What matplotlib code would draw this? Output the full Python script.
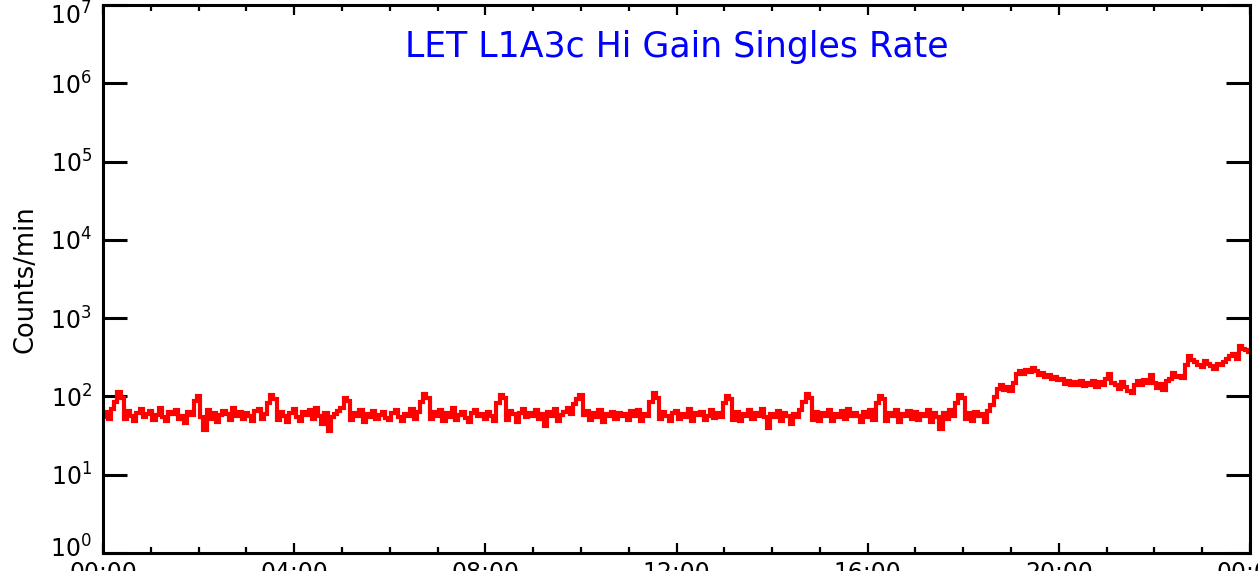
import matplotlib
matplotlib.use("Agg")
import matplotlib.pyplot as plt
import matplotlib.transforms as mtransforms
import numpy as np

# ---- data (4-minute samples) ----
hour_rows = [
    [55, 64, 52, 70, 85, 115, 95, 52, 66, 57, 48, 62, 70, 54, 60],
    [66, 50, 58, 72, 55, 49, 63, 60, 68, 52, 57, 46, 64, 58, 88],
    [102, 55, 37, 68, 52, 61, 47, 58, 66, 60, 50, 72, 56, 63, 51],
    [62, 57, 48, 66, 70, 52, 59, 82, 105, 92, 50, 64, 57, 47, 61],
    [70, 55, 49, 63, 58, 67, 52, 72, 57, 44, 62, 36, 55, 60, 66],
    [72, 96, 88, 50, 62, 57, 68, 47, 60, 55, 66, 51, 58, 64, 53],
    [50, 62, 67, 55, 48, 60, 57, 70, 52, 63, 84, 106, 95, 52, 64],
    [57, 68, 49, 61, 55, 72, 50, 58, 64, 53, 47, 62, 68, 56, 60],
    [52, 64, 57, 48, 82, 104, 96, 50, 66, 59, 47, 62, 70, 55, 61],
    [57, 68, 51, 60, 42, 63, 56, 70, 49, 58, 64, 72, 60, 80, 92],
    [104, 58, 66, 50, 61, 55, 68, 47, 60, 57, 64, 51, 62, 56, 59],
    [50, 65, 57, 68, 49, 60, 56, 84, 110, 96, 52, 63, 57, 48, 61],
    [66, 52, 59, 55, 70, 48, 62, 58, 64, 50, 57, 68, 53, 61, 55],
    [82, 102, 92, 50, 64, 48, 60, 56, 67, 51, 62, 57, 69, 54, 40],
    [60, 54, 66, 49, 62, 57, 44, 60, 55, 68, 86, 106, 95, 50, 64],
    [49, 62, 57, 68, 48, 60, 55, 66, 51, 69, 56, 61, 57, 47, 63],
    [55, 67, 50, 82, 100, 92, 48, 62, 57, 68, 47, 60, 56, 66, 52],
    [63, 50, 59, 56, 68, 47, 61, 54, 38, 62, 51, 67, 56, 82, 104],
    [96, 52, 61, 49, 64, 57, 60, 47, 66, 78, 98, 125, 142, 122, 132],
    [118, 150, 195, 210, 195, 218, 205, 228, 212, 186, 200, 178, 188, 168, 178],
    [160, 168, 145, 158, 138, 154, 140, 156, 134, 150, 142, 158, 132, 152, 140],
    [165, 192, 150, 142, 125, 152, 132, 118, 110, 142, 156, 140, 162, 148, 188],
    [148, 130, 144, 122, 158, 168, 198, 178, 185, 172, 250, 330, 290, 275, 255],
    [240, 285, 260, 245, 222, 256, 250, 275, 300, 328, 345, 298, 440, 400, 395],
]
last_value = [370]
counts = [v for row in hour_rows for v in row] + last_value
hours = np.arange(len(counts)) / 15.0

xtick_hours = [0, 4, 8, 12, 16, 20, 24]
xtick_labels = ["00:00", "04:00", "08:00", "12:00", "16:00", "20:00", "00:00"]
ytick_exps = [0, 1, 2, 3, 4, 5, 6, 7]

title = "LET L1A3c Hi Gain Singles Rate"
ylabel = "Counts/min"

# ---- figure ----
plt.rcParams["font.family"] = ["DejaVu Sans"]
plt.rcParams["mathtext.fontset"] = "dejavusans"

W, H = 1258, 571
fig = plt.figure(figsize=(W / 100, H / 100), dpi=100)
ax = fig.add_axes([103 / W, 1 - 553 / H, (1250 - 103) / W, (553 - 5) / H])

ax.plot(hours, counts, color="#ff0000", lw=3.0, drawstyle="steps-mid",
        solid_joinstyle="miter")

ax.set_yscale("log")
ax.set_ylim(1, 1e7)
ax.set_xlim(0, 24)

ax.set_yticks([10.0 ** e for e in ytick_exps])
ax.set_yticklabels([r"$10^{%d}$" % e for e in ytick_exps])
ax.yaxis.set_minor_locator(matplotlib.ticker.NullLocator())

ax.set_xticks(xtick_hours)
ax.set_xticklabels(xtick_labels)
ax.set_xticks(np.arange(0, 25, 1), minor=True)

for s in ax.spines.values():
    s.set_linewidth(2.2)

ax.tick_params(axis="y", which="major", direction="in", length=17, width=2.2,
               left=True, right=True, labelsize=17, pad=8)
ax.tick_params(axis="x", which="major", direction="in", length=7.5, width=1.6,
               top=True, bottom=True, labelsize=17, pad=6)
ax.tick_params(axis="x", which="minor", direction="in", length=4, width=1.6,
               top=True, bottom=True)

# nudge the end labels inward like the reference
ylabels = ax.get_yticklabels()
ylabels[0].set_transform(ylabels[0].get_transform() +
                         mtransforms.ScaledTranslation(0, 6 / 100, fig.dpi_scale_trans))
ylabels[-1].set_transform(ylabels[-1].get_transform() +
                          mtransforms.ScaledTranslation(0, -8 / 100, fig.dpi_scale_trans))

ax.set_ylabel(ylabel, fontsize=18.5, labelpad=8)
ax.text(0.5, 0.905, title, transform=ax.transAxes, ha="center",
        va="baseline", color="#0000ff", fontsize=25)

fig.savefig("out.png", dpi=100)
